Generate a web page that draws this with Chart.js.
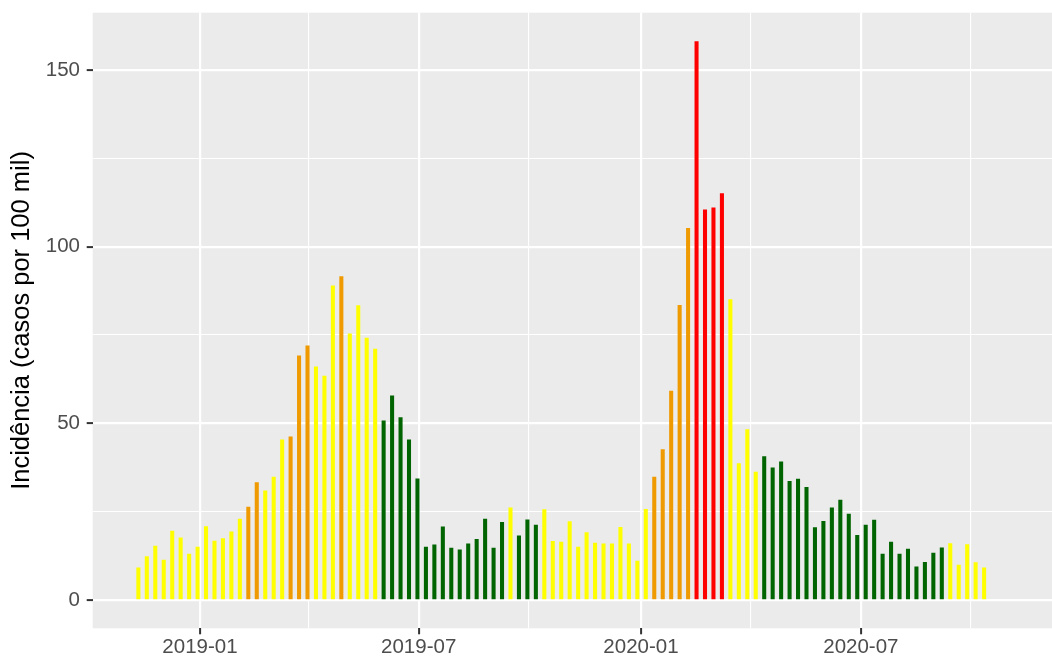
<!DOCTYPE html>
<html>
<head>
<meta charset="utf-8">
<script src="https://cdn.jsdelivr.net/npm/chart.js@4.4.1/dist/chart.umd.min.js"></script>
<style>
  html, body { margin: 0; padding: 0; background: #fff; }
  #wrap { width: 1052px; height: 658px; }
</style>
</head>
<body>
<div id="wrap"><canvas id="grafico" width="1052" height="658"></canvas></div>
<script>
// Incidência semanal (casos por 100 mil), uma barra por semana epidemiológica
const inicioSemana = "2018-11-11";

const incidencia = [
   9.1, 12.3, 15.3, 11.3, 19.5, 17.6, 13.0, 15.0, 20.8, 16.7,
  17.4, 19.3, 22.9, 26.3, 33.2, 30.9, 34.8, 45.3, 46.2, 69.1,
  71.9, 66.0, 63.4, 88.9, 91.5, 75.3, 83.3, 74.1, 71.0, 50.7,
  57.8, 51.6, 45.3, 34.3, 15.0, 15.6, 20.7, 14.7, 14.2, 15.9,
  17.2, 22.9, 14.7, 22.0, 26.1, 18.2, 22.7, 21.2, 25.6, 16.6,
  16.4, 22.2, 15.0, 19.1, 16.1, 15.9, 15.9, 20.6, 15.9, 11.0,
  25.7, 34.8, 42.6, 59.1, 83.4, 105.2, 158.0, 110.4, 111.0, 115.0,
  85.0, 38.6, 48.2, 36.2, 40.6, 37.4, 39.1, 33.6, 34.2, 31.9,
  20.5, 22.3, 26.1, 28.3, 24.3, 18.3, 21.2, 22.6, 13.0, 16.4,
  13.0, 14.4, 9.4, 10.7, 13.3, 14.8, 16.0, 9.9, 15.7, 10.6,
  9.1
];

// nível de alerta de cada semana: G verde, Y amarelo, O laranja, R vermelho
const nivel = [
  "Y","Y","Y","Y","Y","Y","Y","Y","Y","Y",
  "Y","Y","Y","O","O","Y","Y","Y","O","O",
  "O","Y","Y","Y","O","Y","Y","Y","Y","G",
  "G","G","G","G","G","G","G","G","G","G",
  "G","G","G","G","Y","G","G","G","Y","Y",
  "Y","Y","Y","Y","Y","Y","Y","Y","Y","Y",
  "Y","O","O","O","O","O","R","R","R","R",
  "Y","Y","Y","Y","G","G","G","G","G","G",
  "G","G","G","G","G","G","G","G","G","G",
  "G","G","G","G","G","G","Y","Y","Y","Y",
  "Y"
];

const coresNivel = { G: "#006400", Y: "#FFFF00", O: "#EE9A00", R: "#FF0000" };

const datasX = ["2019-01-01", "2019-07-01", "2020-01-01", "2020-07-01"];
const rotulosX = ["2019-01", "2019-07", "2020-01", "2020-07"];
const datasXMenores = ["2019-04-01", "2019-09-30", "2020-04-01", "2020-09-30"];

const ticksY = [0, 50, 100, 150];
const ticksYMenores = [25, 75, 125];

const ORIGEM = Date.UTC(2019, 0, 1);
const DIA = 86400000;
function dias(iso) {
  return (Date.parse(iso + "T00:00:00Z") - ORIGEM) / DIA;
}

const xSemana = incidencia.map((_, i) => dias(inicioSemana) + 7 * i);
const majorX = datasX.map(dias);
const minorX = datasXMenores.map(dias);

const fundoPainel = {
  id: "fundoPainel",
  beforeDraw(chart) {
    const { ctx, chartArea: a } = chart;
    ctx.save();
    ctx.fillStyle = "#EBEBEB";
    ctx.fillRect(a.left, a.top, a.right - a.left, a.bottom - a.top);
    ctx.restore();
  }
};

const FONTE = "'Liberation Sans', Arial, Helvetica, sans-serif";

new Chart(document.getElementById("grafico"), {
  type: "bar",
  data: {
    datasets: [{
      data: incidencia.map((v, i) => ({ x: xSemana[i], y: v })),
      backgroundColor: nivel.map(n => coresNivel[n]),
      borderWidth: 0,
      barThickness: 3.4
    }]
  },
  options: {
    responsive: false,
    animation: false,
    events: [],
    layout: { padding: { top: 12.7, right: 0, left: 0, bottom: 0 } },
    plugins: {
      legend: { display: false },
      tooltip: { enabled: false }
    },
    scales: {
      x: {
        type: "linear",
        offset: false,
        min: -88.8,
        max: 705.2,
        afterFit: (s) => { s.height = 29.7; s.paddingLeft = 0; s.paddingRight = 0; },
        afterBuildTicks: (s) => {
          s.ticks = majorX.concat(minorX).sort((a, b) => a - b).map(v => ({ value: v }));
        },
        border: { display: false },
        grid: {
          offset: false,
          color: "#FFFFFF",
          lineWidth: (c) => majorX.includes(c.tick.value) ? 2.2 : 1.1,
          tickColor: (c) => majorX.includes(c.tick.value) ? "#333333" : "rgba(0,0,0,0)",
          tickWidth: 2,
          tickLength: 6
        },
        ticks: {
          autoSkip: false,
          maxRotation: 0,
          padding: 1,
          color: "#4D4D4D",
          font: { family: FONTE, size: 20.5 },
          callback: (v) => {
            const k = majorX.indexOf(v);
            return k >= 0 ? rotulosX[k] : "";
          }
        }
      },
      y: {
        type: "linear",
        min: -8.0,
        max: 166.2,
        // sem folga extra no topo: o painel começa logo abaixo da margem
        afterFit: (s) => { s.width = 92.7; s.paddingTop = 0; s.paddingBottom = 0; },
        afterBuildTicks: (s) => {
          s.ticks = ticksY.concat(ticksYMenores).sort((a, b) => a - b).map(v => ({ value: v }));
        },
        border: { display: false },
        grid: {
          color: "#FFFFFF",
          lineWidth: (c) => ticksY.includes(c.tick.value) ? 2.2 : 1.1,
          tickColor: (c) => ticksY.includes(c.tick.value) ? "#333333" : "rgba(0,0,0,0)",
          tickWidth: 2,
          tickLength: 6
        },
        ticks: {
          padding: 6.7,
          color: "#4D4D4D",
          font: { family: FONTE, size: 20.5 },
          callback: (v) => ticksY.includes(v) ? String(v) : ""
        },
        title: {
          display: true,
          text: "Incidência (casos por 100 mil)",
          color: "#000000",
          font: { family: FONTE, size: 25.5 },
          padding: { top: 6.5, bottom: 0 }
        }
      }
    }
  },
  plugins: [fundoPainel]
});
</script>
</body>
</html>
